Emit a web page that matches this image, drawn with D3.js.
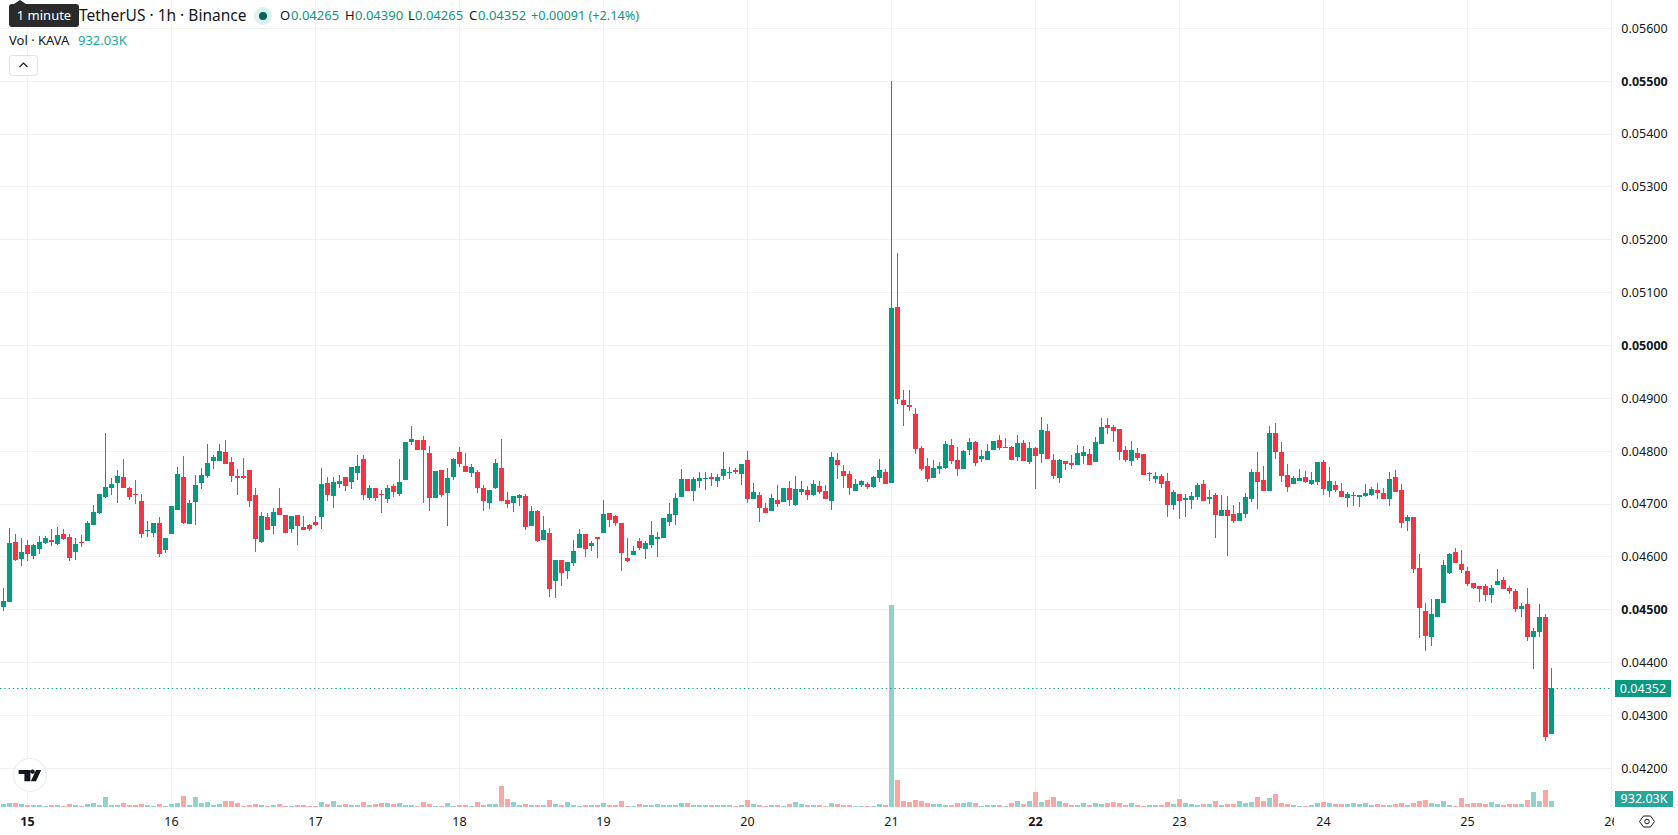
<!DOCTYPE html>
<html>
<head>
<meta charset="utf-8">
<title>KAVA / TetherUS 1h</title>
<script src="https://cdnjs.cloudflare.com/ajax/libs/d3/7.8.5/d3.min.js"></script>
<style>
html,body{margin:0;padding:0;background:#fff;overflow:hidden}
svg{display:block}
text{font-family:"Noto Sans","Open Sans",sans-serif}
</style>
</head>
<body>
<svg id="chart" width="1678" height="835"></svg>
<script>
// Hourly OHLC in units of 0.00001 USDT, one entry per candle.
const opens=[4506,4515,4629,4596,4623,4602,4615,4627,4631,4625,4644,4638,4610,4629,4630,4661,4683,4714,4731,4740,
4751,4731,4719,4706,4649,4646,4664,4613,4644,4689,4751,4663,4704,4740,4753,4782,4782,4799,4780,4753,
4753,4765,4717,4629,4676,4659,4693,4680,4653,4680,4657,4661,4666,4676,4740,4716,4738,4751,4742,4759,
4786,4712,4731,4719,4710,4734,4719,4746,4818,4821,4821,4797,4712,4765,4721,4751,4799,4772,4759,4761,
4731,4702,4731,4768,4708,4702,4712,4716,4659,4687,4632,4646,4555,4595,4574,4589,4617,4644,4621,4638,
4646,4683,4678,4664,4598,4604,4630,4615,4623,4634,4636,4666,4680,4714,4748,4725,4744,4748,4751,4744,
4753,4759,4765,4757,4784,4710,4717,4693,4687,4708,4704,4731,4698,4723,4727,4717,4734,4725,4706,4784,
4763,4757,4725,4736,4738,4733,4750,4761,4740,5073,4897,4887,4870,4806,4772,4750,4767,4768,4812,4784,
4767,4802,4818,4785,4784,4802,4821,4806,4808,4789,4816,4780,4806,4795,4838,4784,4750,4782,4778,4774,
4791,4795,4780,4814,4850,4846,4842,4802,4782,4797,4795,4757,4748,4753,4744,4698,4719,4708,4708,4714,
4738,4710,4717,4678,4689,4682,4668,4682,4710,4761,4746,4725,4835,4799,4755,4738,4744,4751,4738,4742,
4780,4725,4736,4725,4712,4716,4714,4716,4717,4727,4721,4710,4751,4727,4668,4676,4579,4498,4449,4487,
4513,4570,4610,4587,4574,4551,4544,4544,4528,4547,4557,4542,4536,4502,4510,4449,4458,4487,4265];
const highs=[4542,4655,4644,4636,4632,4625,4640,4640,4653,4657,4653,4644,4636,4642,4668,4698,4719,4835,4750,4765,
4786,4733,4746,4719,4668,4664,4676,4636,4697,4770,4791,4708,4755,4768,4814,4793,4814,4821,4789,4767,
4787,4765,4731,4685,4683,4693,4731,4680,4678,4680,4678,4663,4678,4768,4751,4751,4755,4751,4770,4793,
4793,4736,4731,4727,4736,4738,4786,4818,4848,4821,4829,4810,4763,4765,4768,4787,4808,4797,4776,4765,
4736,4727,4786,4823,4723,4716,4719,4719,4697,4689,4678,4655,4595,4595,4591,4632,4653,4644,4630,4638,
4708,4683,4680,4664,4636,4621,4636,4630,4668,4647,4674,4702,4721,4767,4748,4751,4761,4761,4759,4757,
4799,4770,4768,4776,4801,4740,4723,4702,4719,4736,4731,4744,4753,4744,4734,4746,4744,4736,4799,4797,
4774,4763,4748,4746,4742,4753,4786,4767,5500,5175,4916,4916,4882,4810,4787,4784,4780,4819,4823,4808,
4802,4825,4819,4802,4814,4819,4831,4825,4810,4831,4821,4818,4808,4865,4852,4795,4786,4782,4793,4812,
4810,4804,4827,4863,4863,4850,4842,4810,4819,4806,4795,4761,4761,4757,4759,4727,4719,4719,4723,4740,
4746,4727,4721,4717,4716,4698,4704,4721,4767,4799,4772,4848,4854,4818,4776,4753,4767,4763,4761,4780,
4784,4770,4744,4740,4723,4723,4717,4738,4733,4740,4731,4761,4765,4738,4680,4676,4606,4513,4521,4521,
4595,4608,4617,4613,4581,4551,4545,4549,4547,4578,4561,4545,4540,4513,4541,4466,4511,4492,4390];
const lows=[4497,4515,4593,4583,4593,4596,4606,4625,4621,4623,4632,4593,4595,4619,4630,4661,4682,4712,4717,4702,
4731,4708,4700,4636,4638,4638,4600,4608,4644,4689,4663,4663,4661,4729,4750,4767,4782,4776,4742,4717,
4748,4695,4610,4627,4651,4644,4680,4646,4646,4623,4651,4649,4659,4653,4706,4693,4731,4725,4729,4746,
4708,4708,4706,4683,4702,4714,4716,4746,4812,4802,4702,4687,4712,4714,4659,4746,4770,4761,4751,4721,
4687,4691,4729,4706,4693,4685,4697,4651,4659,4629,4632,4525,4523,4545,4559,4583,4617,4600,4612,4598,
4646,4657,4659,4574,4591,4604,4613,4596,4617,4600,4636,4659,4661,4714,4725,4706,4731,4727,4734,4733,
4746,4748,4757,4736,4702,4710,4666,4683,4687,4695,4704,4697,4697,4717,4708,4716,4719,4710,4689,4748,
4731,4717,4725,4733,4729,4731,4742,4738,4740,4889,4848,4876,4795,4763,4742,4750,4757,4767,4776,4753,
4767,4793,4772,4780,4784,4802,4802,4806,4784,4782,4782,4776,4729,4778,4786,4748,4740,4765,4767,4774,
4776,4774,4780,4814,4833,4818,4784,4780,4772,4784,4755,4744,4740,4731,4676,4689,4672,4676,4691,4708,
4706,4700,4636,4678,4602,4664,4668,4674,4704,4691,4725,4725,4786,4742,4723,4738,4744,4740,4736,4736,
4717,4714,4723,4714,4695,4697,4695,4714,4716,4710,4710,4697,4723,4655,4649,4570,4447,4421,4432,4487,
4513,4568,4589,4570,4544,4540,4515,4517,4513,4547,4540,4530,4496,4487,4440,4387,4449,4252,4265];
const closes=[4517,4627,4595,4610,4606,4623,4629,4636,4629,4642,4634,4598,4625,4627,4664,4685,4719,4733,4738,4753,
4731,4714,4717,4644,4651,4664,4606,4636,4697,4757,4664,4702,4736,4755,4778,4789,4801,4776,4753,4750,
4750,4706,4634,4678,4651,4685,4680,4646,4678,4659,4651,4653,4661,4738,4717,4742,4744,4734,4770,4772,
4717,4731,4712,4717,4731,4723,4742,4818,4823,4802,4802,4712,4763,4717,4750,4786,4776,4761,4770,4731,
4706,4727,4778,4706,4700,4716,4717,4657,4687,4630,4651,4540,4595,4570,4591,4612,4644,4615,4627,4634,
4682,4670,4664,4608,4593,4612,4617,4627,4642,4638,4674,4682,4712,4748,4725,4748,4750,4750,4748,4751,
4767,4761,4761,4776,4710,4723,4693,4683,4712,4700,4731,4708,4729,4729,4717,4738,4723,4710,4789,4774,
4753,4731,4738,4744,4733,4751,4765,4738,5071,4899,4887,4883,4804,4767,4748,4768,4772,4814,4782,4767,
4801,4818,4778,4791,4801,4819,4806,4808,4784,4816,4782,4806,4791,4840,4786,4753,4784,4776,4774,4797,
4799,4774,4818,4846,4844,4838,4799,4784,4802,4787,4755,4759,4753,4738,4698,4723,4706,4712,4716,4736,
4706,4714,4680,4689,4678,4668,4683,4714,4761,4742,4725,4835,4799,4753,4733,4750,4750,4742,4746,4780,
4729,4744,4727,4714,4719,4717,4717,4721,4729,4721,4710,4748,4723,4664,4676,4578,4504,4451,4492,4521,
4585,4606,4589,4576,4549,4542,4540,4528,4542,4555,4540,4536,4502,4508,4449,4460,4487,4260,4352];
// Volume per candle, in thousands of KAVA.
const volumes=[465,620,620,465,310,310,310,155,310,310,155,465,310,155,465,620,310,1550,310,310,
620,310,310,465,310,155,465,155,465,620,1705,310,1550,620,775,310,465,930,930,620,
155,310,465,310,155,310,465,155,155,310,310,155,155,775,465,930,310,465,310,310,
775,310,465,620,620,465,620,310,310,155,775,465,155,155,620,155,310,310,155,775,
310,465,465,3255,1240,775,310,465,310,310,310,1085,465,310,775,310,155,310,310,310,
620,310,310,930,155,155,465,310,310,465,310,310,310,620,620,310,310,310,310,310,
310,310,155,310,1085,465,310,155,310,310,155,465,775,465,310,310,310,155,620,465,
310,310,155,155,155,155,465,310,31300,4185,930,775,1085,930,620,465,465,310,310,620,
620,775,620,155,310,310,310,155,620,930,465,930,2325,775,1085,1550,930,620,310,310,
620,310,620,465,620,775,620,310,620,310,155,310,310,310,775,465,1240,620,465,310,
465,465,930,310,465,465,930,620,775,1550,930,1395,2015,620,465,310,155,155,310,620,
775,620,465,465,465,620,465,620,310,465,310,310,465,620,310,620,930,1085,620,465,
930,310,155,1395,465,620,620,465,775,465,310,465,465,465,1085,2325,930,2635,932];
// Right-hand price axis, with the round levels that are set in bold.
const priceTicks=[0.056,0.055,0.054,0.053,0.052,0.051,0.05,0.049,0.048,0.047,0.046,0.045,0.044,0.043,0.042];
const boldPrices=[0.055,0.05,0.045];
// Calendar days along the time axis: day of month and the candle index of its midnight.
const dayLabels=["15","16","17","18","19","20","21","22","23","24","25","26"];
const dayIndex=[4,28,52,76,100,124,148,172,196,220,244,268];
const boldDays=["15","22"];
const lastPrice=0.04352;

const W=1678,H=835,plotW=1611,volBase=807;
const UP="#089981",DOWN="#F23645",UP_VOL="#92D2CC",DOWN_VOL="#F7A9A7",GRID="#f2f2f3",INK="#131722";

const svg=d3.select("#chart");
const defs=svg.append("defs");
defs.append("clipPath").attr("id","plotClip").append("rect").attr("width",plotW).attr("height",H);
defs.append("clipPath").attr("id","timeClip").append("rect").attr("y",808).attr("width",1614).attr("height",27);

const x=d3.scaleLinear().domain([0,258]).range([3.5,1551.5]);
const y=d3.scaleLinear().domain([0.056,0.042]).range([28.3,768.3]);
const yVol=d3.scaleLinear().domain([0,31300]).range([volBase,605]);
const px=v=>Math.round(v);
const price=v=>v/1e5;

const plot=svg.append("g").attr("clip-path","url(#plotClip)");

// Grid
plot.append("g").selectAll("line").data(priceTicks).join("line")
  .attr("x1",0).attr("x2",plotW)
  .attr("y1",d=>Math.floor(y(d))+0.5).attr("y2",d=>Math.floor(y(d))+0.5)
  .attr("stroke",GRID);
plot.append("g").selectAll("line").data(dayIndex).join("line")
  .attr("x1",d=>x(d)).attr("x2",d=>x(d))
  .attr("y1",0).attr("y2",808)
  .attr("stroke",GRID);

// Volume histogram
const bars=d3.range(opens.length);
plot.append("g").selectAll("rect").data(bars).join("rect")
  .attr("x",i=>x(i)-2.5).attr("width",5)
  .attr("y",i=>px(yVol(volumes[i])))
  .attr("height",i=>volBase-px(yVol(volumes[i])))
  .attr("fill",i=>closes[i]>=opens[i]?UP_VOL:DOWN_VOL);

// Last price line
plot.append("line")
  .attr("x1",0).attr("x2",plotW)
  .attr("y1",px(y(lastPrice))+0.5).attr("y2",px(y(lastPrice))+0.5)
  .attr("stroke",UP).attr("stroke-dasharray","1.3 3");

// Candles: wick plus body
const candles=plot.append("g").selectAll("g").data(bars).join("g")
  .attr("fill",i=>closes[i]>=opens[i]?UP:DOWN);
candles.append("rect")
  .attr("x",i=>x(i)-0.5).attr("width",1)
  .attr("y",i=>px(y(price(highs[i]))))
  .attr("height",i=>Math.max(1,px(y(price(lows[i])))-px(y(price(highs[i])))));
candles.append("rect")
  .attr("x",i=>x(i)-2.5).attr("width",5)
  .attr("y",i=>px(y(price(Math.max(opens[i],closes[i])))))
  .attr("height",i=>Math.max(1,px(y(price(Math.min(opens[i],closes[i]))))-px(y(price(Math.max(opens[i],closes[i]))))));

// Border between the plot and the price axis
svg.append("line").attr("x1",1611.5).attr("x2",1611.5).attr("y1",0).attr("y2",807).attr("stroke","#eeeff1");

// Price axis
svg.append("g").selectAll("text").data(priceTicks).join("text")
  .attr("x",1644.5).attr("y",d=>y(d)).attr("dy","0.35em")
  .attr("text-anchor","middle").attr("font-size",12.5).attr("fill",INK)
  .attr("font-weight",d=>boldPrices.includes(d)?700:400)
  .text(d=>d.toFixed(5));

// Time axis
svg.append("g").attr("clip-path","url(#timeClip)").selectAll("text").data(dayIndex).join("text")
  .attr("x",d=>x(d)).attr("y",822).attr("dy","0.35em")
  .attr("text-anchor","middle").attr("font-size",12.5).attr("fill",INK)
  .attr("font-weight",(d,i)=>boldDays.includes(dayLabels[i])?700:400)
  .text((d,i)=>dayLabels[i]);

// Axis value tags
const tag=(text,yTop,yBot,width,fill)=>{
  svg.append("rect").attr("x",1615).attr("y",yTop).attr("width",width).attr("height",yBot-yTop).attr("fill",fill);
  svg.append("text").attr("x",1615+width/2).attr("y",(yTop+yBot)/2).attr("dy","0.35em")
    .attr("text-anchor","middle").attr("font-size",12.5).attr("fill","#fff").text(text);
};
tag(lastPrice.toFixed(5),680,697,56,UP);
tag("932.03K",791,807,58,"#26A69A");

// Settings hexagon below the price axis
const gear=svg.append("g").attr("transform","translate(1647,821.5)").attr("fill","none").attr("stroke",INK);
gear.append("path").attr("d","M-7.5 0L-3.5-5.5H3.5L7.5 0L3.5 5.5H-3.5Z");
gear.append("circle").attr("r",2.3);

// Chart logo badge
const badge=svg.append("g").attr("transform","translate(30,775)");
badge.append("circle").attr("r",16.5).attr("fill","#fff").attr("stroke","#eceef0").attr("stroke-width",1.2);
badge.append("path").attr("fill","#131722")
  .attr("d","M-11.4-5H0.4V6.3H-5.6V-1H-11.4ZM6-5H11.2L6 6.3H0.8ZM2.6-5.5a2.2 2.2 0 1 0 .01 0Z");

// Legend rows
const legend=svg.append("g").attr("font-size",13);
const row=(xPos,yPos,str,fill,size)=>legend.append("text").attr("x",xPos).attr("y",yPos).attr("dy","0.35em")
  .attr("fill",fill).attr("font-size",size||13).text(str);
row(79,15.5,"TetherUS · 1h · Binance",INK,15.5);
row(280,15.5,"O",INK); row(291,15.5,"0.04265",UP);
row(345,15.5,"H",INK); row(355,15.5,"0.04390",UP);
row(408,15.5,"L",INK); row(415,15.5,"0.04265",UP);
row(469,15.5,"C",INK); row(478,15.5,"0.04352",UP);
row(531,15.5,"+0.00091 (+2.14%)",UP,12.7);
row(9,40.5,"Vol · KAVA",INK);
row(78,40.5,"932.03K","#26A69A");

// Market status dot
svg.append("circle").attr("cx",263).attr("cy",16).attr("r",9).attr("fill","#DDF1EE");
svg.append("circle").attr("cx",263).attr("cy",16).attr("r",4).attr("fill","#056656");

// Collapse button
svg.append("rect").attr("x",9.5).attr("y",55.5).attr("width",28).attr("height",20).attr("rx",3)
  .attr("fill","#fff").attr("stroke","#dfe1e6");
svg.append("path").attr("d","M19.5 67L23.5 63L27.5 67").attr("fill","none").attr("stroke",INK).attr("stroke-width",1.2);

// Hover tooltip over the symbol name
svg.append("path").attr("fill","#2A2A2A").attr("d","M20 0L26 4H76a3 3 0 0 1 3 3V24a3 3 0 0 1-3 3H12a3 3 0 0 1-3-3V7a3 3 0 0 1 3-3H14Z");
svg.append("text").attr("x",44).attr("y",15.5).attr("dy","0.35em").attr("text-anchor","middle")
  .attr("font-size",13).attr("fill","#fff").text("1 minute");
</script>
</body>
</html>
